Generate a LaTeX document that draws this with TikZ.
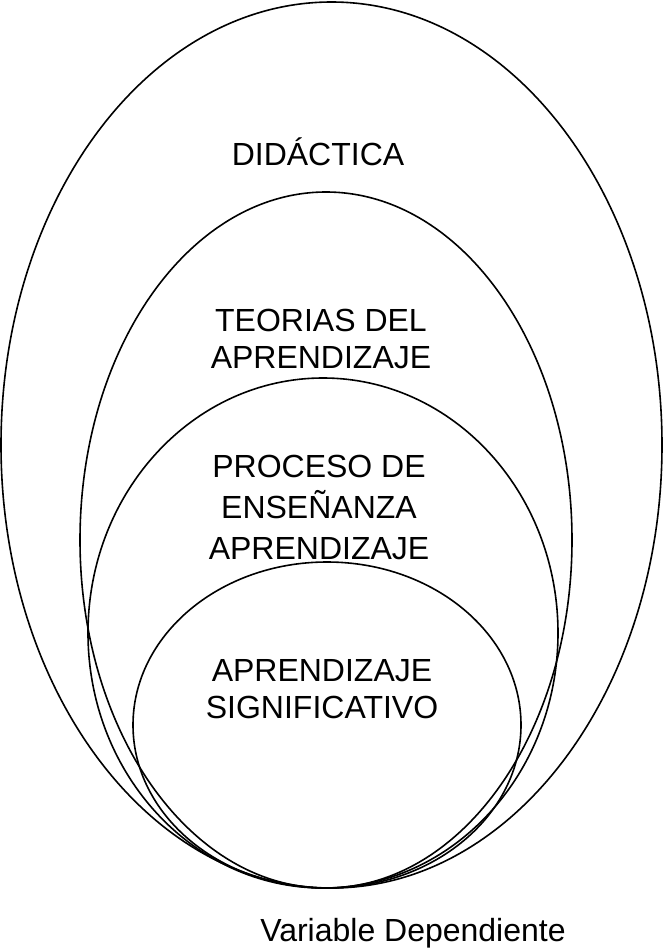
\documentclass[tikz,border=0pt]{standalone}
\usepackage{fontspec}
\setmainfont{Liberation Sans}
\begin{document}
\begin{tikzpicture}[x=1pt,y=-1pt,
  ring/.style={draw=black,line width=1.6pt},
  lbl/.style={font=\fontsize{32}{37}\selectfont,align=center,inner sep=0pt},
  lblsp/.style={font=\fontsize{32}{41}\selectfont,align=center,inner sep=0pt}]
\useasboundingbox[fill=white] (0,0) rectangle (663,948);
% nested sets
\draw[ring] (331.5,445) ellipse [x radius=330.5pt, y radius=443pt];
\draw[ring] (326,540) ellipse [x radius=246pt, y radius=348pt];
\draw[ring] (323,633) ellipse [x radius=235pt, y radius=255pt];
\draw[ring] (327,725) ellipse [x radius=194pt, y radius=163pt];
% labels
\node[lbl,anchor=base] (did) at (318,165) {DIDÁCTICA};
\node[lbl,anchor=north] (teo) at (321,309) {TEORIAS DEL\\APRENDIZAJE};
\node[lblsp,anchor=north] (pro) at (319,455) {PROCESO DE\\ENSEÑANZA\\APRENDIZAJE};
\node[lbl,anchor=north] (sig) at (322,659) {APRENDIZAJE\\SIGNIFICATIVO};
\node[lbl,anchor=base] (var) at (413,941) {Variable Dependiente};
\end{tikzpicture}
\end{document}
